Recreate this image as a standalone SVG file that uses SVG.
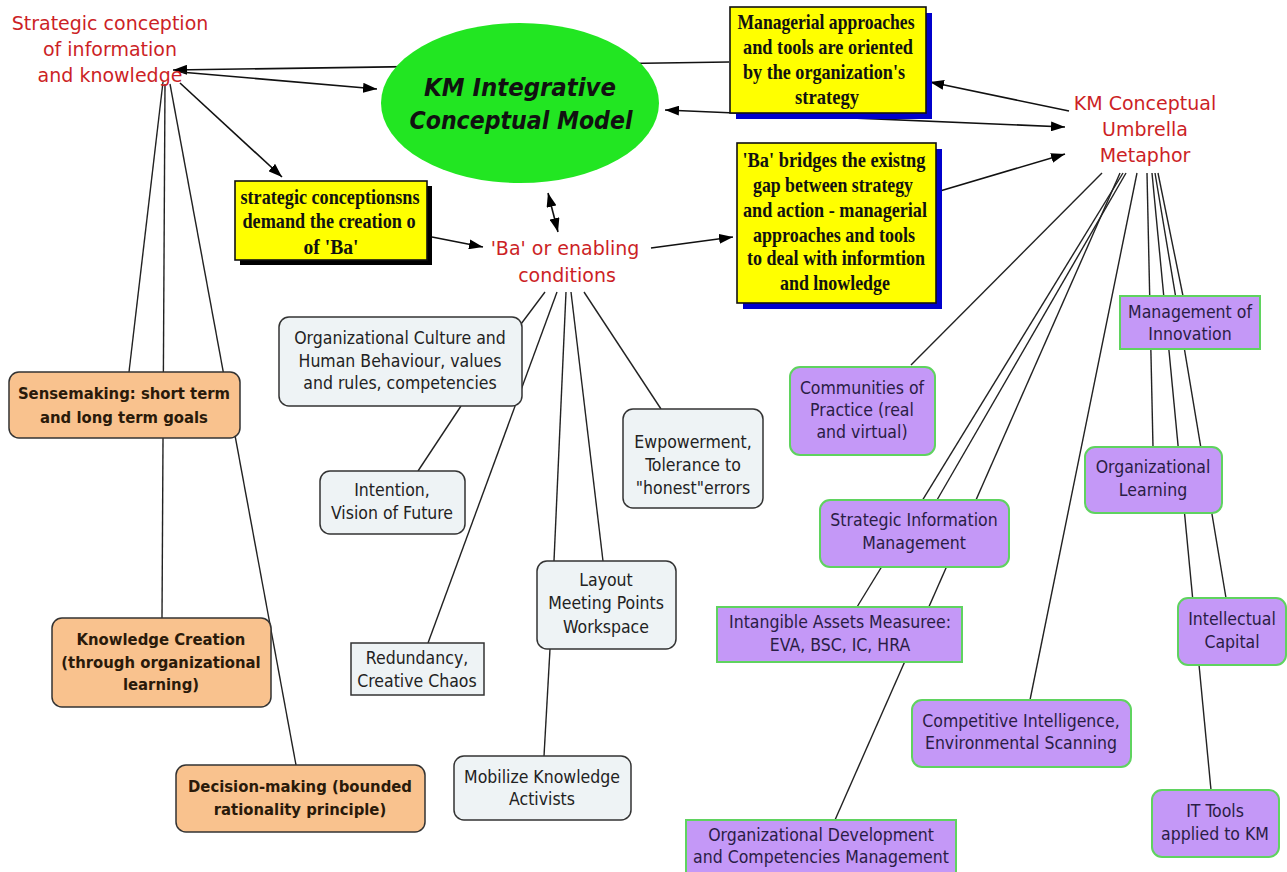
<svg xmlns="http://www.w3.org/2000/svg" width="1287" height="872" viewBox="0 0 1287 872">
<defs>
<marker id="ah" viewBox="0 0 14 10" refX="14" refY="5" markerWidth="14" markerHeight="10" markerUnits="userSpaceOnUse" orient="auto-start-reverse"><path d="M0,0 L14,5 L0,10 z" fill="#000"/></marker>
<style>
.ln{stroke:#222;stroke-width:1.4;fill:none}
.ar{stroke:#111;stroke-width:1.6;fill:none;marker-end:url(#ah)}
.ar2{stroke:#111;stroke-width:1.6;fill:none;marker-start:url(#ah);marker-end:url(#ah)}
.red{font-family:"DejaVu Sans",sans-serif;font-size:19px;fill:#cc1f26;text-anchor:middle}
.yb{fill:#ffff00;stroke:#111;stroke-width:1.6}
.ys{font-family:"Liberation Serif",serif;font-weight:bold;font-size:22px;fill:#111;text-anchor:middle}
.or{fill:#f9c28e;stroke:#333;stroke-width:1.5}
.ot{font-family:"DejaVu Sans Condensed","DejaVu Sans",sans-serif;font-weight:bold;font-size:16.5px;fill:#2a1a0a;text-anchor:middle}
.lb{fill:#eef3f5;stroke:#333;stroke-width:1.5}
.lt{font-family:"DejaVu Sans Condensed","DejaVu Sans",sans-serif;font-size:17.5px;fill:#222;text-anchor:middle}
.pb{fill:#c498f7;stroke:#5fd35f;stroke-width:2}
.pt{font-family:"DejaVu Sans Condensed","DejaVu Sans",sans-serif;font-size:17.5px;fill:#2a1d45;text-anchor:middle}
</style>
</defs>
<rect width="1287" height="872" fill="#fff"/>
<g id="connectors">
<line class="ar" x1="729" y1="62" x2="173" y2="70"/>
<line class="ar" x1="180" y1="72" x2="377" y2="89"/>
<line class="ar" x1="180" y1="83" x2="282" y2="177"/>
<line class="ar2" x1="665" y1="110" x2="1065" y2="127"/>
<line class="ar" x1="1069" y1="111" x2="930" y2="82"/>
<line class="ar" x1="940" y1="191" x2="1065" y2="154"/>
<line class="ar2" x1="548" y1="193" x2="558" y2="232"/>
<line class="ar" x1="432" y1="237" x2="483" y2="247"/>
<line class="ar" x1="651" y1="248" x2="733" y2="237"/>
<line class="ln" x1="163" y1="82" x2="129" y2="372"/>
<line class="ln" x1="165" y1="84" x2="162" y2="618"/>
<line class="ln" x1="170" y1="84" x2="296" y2="765"/>
<line class="ln" x1="545" y1="292" x2="521" y2="324"/>
<line class="ln" x1="557" y1="292" x2="428" y2="643"/>
<line class="ln" x1="566" y1="292" x2="554" y2="561"/>
<line class="ln" x1="571" y1="292" x2="603" y2="561"/>
<line class="ln" x1="584" y1="292" x2="661" y2="409"/>
<line class="ln" x1="461" y1="406" x2="418" y2="471"/>
<line class="ln" x1="550" y1="649" x2="544" y2="756"/>
<line class="ln" x1="1102" y1="173" x2="911" y2="365"/>
<line class="ln" x1="1123" y1="173" x2="857" y2="607"/>
<line class="ln" x1="1126" y1="173" x2="937" y2="500"/>
<line class="ln" x1="1120" y1="173" x2="835" y2="820"/>
<line class="ln" x1="1137" y1="173" x2="1030" y2="700"/>
<line class="ln" x1="1147" y1="173" x2="1153" y2="447"/>
<line class="ln" x1="1152" y1="173" x2="1211" y2="790"/>
<line class="ln" x1="1155" y1="173" x2="1226" y2="598"/>
<line class="ln" x1="1158" y1="173" x2="1183" y2="296"/>
</g>
<g id="strategic-conception">
<text class="red" x="110" y="30">Strategic conception</text>
<text class="red" x="110" y="56">of information</text>
<text class="red" x="110" y="82">and knowledge</text>
</g>
<g id="km-model">
<ellipse cx="520" cy="103" rx="139" ry="80" fill="#22e622"/>
<text x="520" y="96" font-family="DejaVu Sans Condensed, DejaVu Sans, sans-serif" font-weight="bold" font-style="italic" font-size="24" fill="#111" text-anchor="middle" textLength="192" lengthAdjust="spacingAndGlyphs">KM Integrative</text>
<text x="521" y="129" font-family="DejaVu Sans Condensed, DejaVu Sans, sans-serif" font-weight="bold" font-style="italic" font-size="24" fill="#111" text-anchor="middle" textLength="223" lengthAdjust="spacingAndGlyphs">Conceptual Model</text>
</g>
<g id="managerial">
<rect x="736" y="13" width="196" height="106" fill="#0000cc"/>
<rect class="yb" x="730" y="7" width="196" height="106"/>
<text class="ys" x="826" y="29" textLength="177" lengthAdjust="spacingAndGlyphs">Managerial approaches</text>
<text class="ys" x="828" y="54" textLength="170" lengthAdjust="spacingAndGlyphs">and tools are oriented</text>
<text class="ys" x="824" y="79" textLength="162" lengthAdjust="spacingAndGlyphs">by the organization's</text>
<text class="ys" x="827" y="104" textLength="64" lengthAdjust="spacingAndGlyphs">strategy</text>
</g>
<g id="km-umbrella">
<text class="red" x="1145" y="110" font-size="20">KM Conceptual</text>
<text class="red" x="1145" y="136" font-size="20">Umbrella</text>
<text class="red" x="1145" y="162" font-size="20">Metaphor</text>
</g>
<g id="strategic-box">
<rect x="240" y="186" width="192" height="79" fill="#000"/>
<rect class="yb" x="235" y="181" width="192" height="79"/>
<text class="ys" x="330" y="204" textLength="179" lengthAdjust="spacingAndGlyphs">strategic conceptionsns</text>
<text class="ys" x="329" y="228" textLength="173" lengthAdjust="spacingAndGlyphs">demand the creation o</text>
<text class="ys" x="331" y="254" textLength="55" lengthAdjust="spacingAndGlyphs">of 'Ba'</text>
</g>
<g id="ba-conditions">
<text class="red" x="565" y="255">'Ba' or enabling</text>
<text class="red" x="567" y="282">conditions</text>
</g>
<g id="ba-bridges">
<rect x="743" y="149" width="199" height="160" fill="#0000cc"/>
<rect class="yb" x="737" y="143" width="199" height="160"/>
<text class="ys" x="834" y="167" textLength="183" lengthAdjust="spacingAndGlyphs">'Ba' bridges the existng</text>
<text class="ys" x="833" y="192" textLength="160" lengthAdjust="spacingAndGlyphs">gap between strategy</text>
<text class="ys" x="835" y="217" textLength="184" lengthAdjust="spacingAndGlyphs">and action - managerial</text>
<text class="ys" x="834" y="242" textLength="162" lengthAdjust="spacingAndGlyphs">approaches and tools</text>
<text class="ys" x="836" y="265" textLength="178" lengthAdjust="spacingAndGlyphs">to deal with informtion</text>
<text class="ys" x="835" y="290" textLength="110" lengthAdjust="spacingAndGlyphs">and lnowledge</text>
</g>
<g id="sensemaking">
<rect class="or" x="9" y="372" width="231" height="66" rx="10"/>
<text class="ot" x="124" y="399">Sensemaking: short term</text>
<text class="ot" x="124" y="423">and long term goals</text>
</g>
<g id="knowledge-creation">
<rect class="or" x="52" y="618" width="219" height="89" rx="10"/>
<text class="ot" x="161" y="645">Knowledge Creation</text>
<text class="ot" x="161" y="668">(through organizational</text>
<text class="ot" x="161" y="690">learning)</text>
</g>
<g id="decision-making">
<rect class="or" x="176" y="765" width="249" height="67" rx="10"/>
<text class="ot" x="300" y="792">Decision-making (bounded</text>
<text class="ot" x="300" y="815">rationality principle)</text>
</g>
<g id="org-culture">
<rect class="lb" x="279" y="317" width="243" height="89" rx="10"/>
<text class="lt" x="400" y="344">Organizational Culture and</text>
<text class="lt" x="400" y="367">Human Behaviour, values</text>
<text class="lt" x="400" y="389">and rules, competencies</text>
</g>
<g id="intention">
<rect class="lb" x="320" y="471" width="145" height="63" rx="10"/>
<text class="lt" x="392" y="496">Intention,</text>
<text class="lt" x="392" y="519">Vision of Future</text>
</g>
<g id="empowerment">
<rect class="lb" x="623" y="409" width="140" height="99" rx="10"/>
<text class="lt" x="693" y="448">Ewpowerment,</text>
<text class="lt" x="693" y="471">Tolerance to</text>
<text class="lt" x="693" y="494">"honest"errors</text>
</g>
<g id="layout">
<rect class="lb" x="537" y="561" width="139" height="88" rx="10"/>
<text class="lt" x="606" y="586">Layout</text>
<text class="lt" x="606" y="609">Meeting Points</text>
<text class="lt" x="606" y="633">Workspace</text>
</g>
<g id="redundancy">
<rect class="lb" x="351" y="643" width="133" height="52"/>
<text class="lt" x="417" y="664">Redundancy,</text>
<text class="lt" x="417" y="687">Creative Chaos</text>
</g>
<g id="mobilize">
<rect class="lb" x="454" y="756" width="177" height="64" rx="10"/>
<text class="lt" x="542" y="783">Mobilize Knowledge</text>
<text class="lt" x="542" y="805">Activists</text>
</g>
<g id="innovation">
<rect class="pb" x="1120" y="296" width="140" height="53"/>
<text class="pt" x="1190" y="318">Management of</text>
<text class="pt" x="1190" y="340">Innovation</text>
</g>
<g id="communities">
<rect class="pb" x="790" y="367" width="145" height="88" rx="10"/>
<text class="pt" x="862" y="394">Communities of</text>
<text class="pt" x="862" y="416">Practice (real</text>
<text class="pt" x="862" y="438">and virtual)</text>
</g>
<g id="org-learning">
<rect class="pb" x="1085" y="447" width="137" height="66" rx="10"/>
<text class="pt" x="1153" y="473">Organizational</text>
<text class="pt" x="1153" y="496">Learning</text>
</g>
<g id="sim">
<rect class="pb" x="820" y="500" width="189" height="67" rx="10"/>
<text class="pt" x="914" y="526">Strategic Information</text>
<text class="pt" x="914" y="549">Management</text>
</g>
<g id="intangible">
<rect class="pb" x="717" y="607" width="245" height="55"/>
<text class="pt" x="840" y="628">Intangible Assets Measuree:</text>
<text class="pt" x="840" y="651">EVA, BSC, IC, HRA</text>
</g>
<g id="competitive">
<rect class="pb" x="912" y="700" width="219" height="67" rx="10"/>
<text class="pt" x="1021" y="727">Competitive Intelligence,</text>
<text class="pt" x="1021" y="749">Environmental Scanning</text>
</g>
<g id="intellectual">
<rect class="pb" x="1178" y="598" width="108" height="67" rx="10"/>
<text class="pt" x="1232" y="625">Intellectual</text>
<text class="pt" x="1232" y="648">Capital</text>
</g>
<g id="it-tools">
<rect class="pb" x="1152" y="790" width="127" height="67" rx="10"/>
<text class="pt" x="1215" y="817">IT Tools</text>
<text class="pt" x="1215" y="840">applied to KM</text>
</g>
<g id="org-development">
<rect class="pb" x="686" y="820" width="270" height="62"/>
<text class="pt" x="821" y="841">Organizational Development</text>
<text class="pt" x="821" y="863">and Competencies Management</text>
</g>
</svg>
